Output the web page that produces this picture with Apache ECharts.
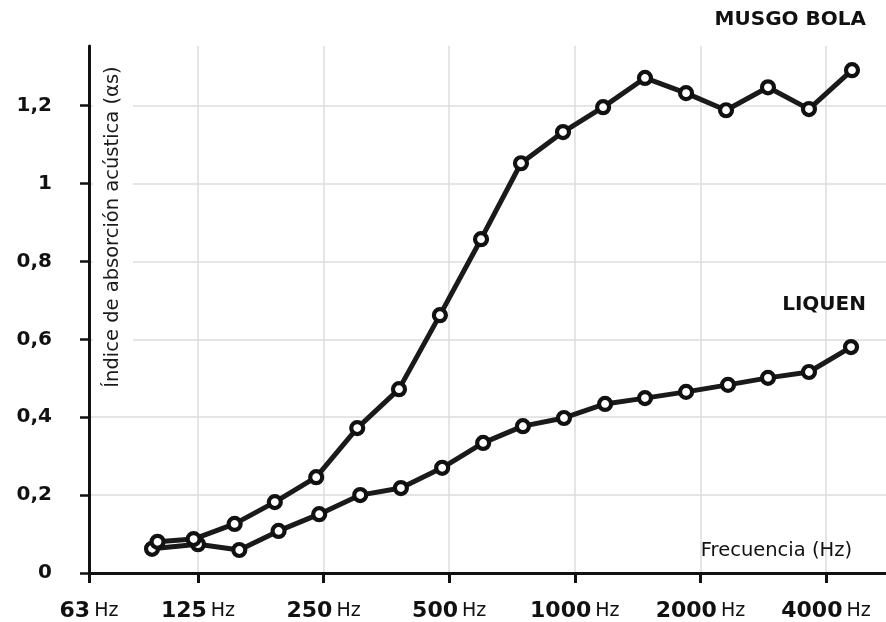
<!DOCTYPE html>
<html>
<head>
<meta charset="utf-8">
<script src="https://cdn.jsdelivr.net/npm/echarts@6/dist/echarts.min.js"></script>
<style>
  html, body { margin: 0; padding: 0; background: #fff; }
  #chart { width: 886px; height: 622px; }
</style>
</head>
<body>
<div id="chart"></div>
<script>
const musgoFreq  = [100, 122, 153, 191, 240, 301, 379, 475, 596, 743, 937, 1169, 1473, 1848, 2304, 2904, 3641, 4617];
const liquenFreq = [97, 125, 157, 195, 244, 306, 383, 481, 603, 751, 942, 1182, 1473, 1848, 2329, 2904, 3641, 4592];
// Absorption coefficient values
const musgoBola = [0.080, 0.087, 0.126, 0.182, 0.246, 0.372, 0.472, 0.662, 0.857, 1.052, 1.132, 1.196, 1.271, 1.232, 1.188, 1.247, 1.191, 1.291];
const liquen    = [0.062, 0.074, 0.059, 0.108, 0.151, 0.200, 0.218, 0.270, 0.334, 0.377, 0.398, 0.434, 0.449, 0.465, 0.483, 0.501, 0.516, 0.580];
// Axis ticks
const xTickFreqs  = [68.5, 125, 250, 500, 1000, 2000, 4000];
const xTickLabels = ['63', '125', '250', '500', '1000', '2000', '4000'];
const xMaxFreq = 5570;
const yTicks = [0, 0.2, 0.4, 0.6, 0.8, 1, 1.2];
const yMax = 1.353;

const FONT = 'DejaVu Sans';
const INK = '#111';

const log2 = Math.log2;
const xTickVals = xTickFreqs.map(log2);

function toPairs(freqs, vals) { return freqs.map((f, i) => [log2(f), vals[i]]); }

const chart = echarts.init(document.getElementById('chart'), null, { renderer: 'canvas' });

const seriesStyle = {
  type: 'line',
  symbol: 'circle',
  symbolSize: 12,
  showAllSymbol: true,
  lineStyle: { color: '#1a1a1a', width: 5 },
  itemStyle: { color: '#fff', borderColor: INK, borderWidth: 4.2 },
  emphasis: { disabled: true },
  animation: false
};

chart.setOption({
  animation: false,
  backgroundColor: '#fff',
  grid: { left: 89, right: 0, top: 46, bottom: 49, containLabel: false },
  xAxis: {
    type: 'value',
    min: log2(xTickFreqs[0]),
    max: log2(xMaxFreq),
    axisLine: { show: true, lineStyle: { color: INK, width: 3 } },
    axisTick: { show: true, customValues: xTickVals, length: 10, lineStyle: { color: INK, width: 3 } },
    splitLine: { show: true, lineStyle: { color: '#dcdcdc', width: 1.5 } },
    axisLabel: {
      customValues: xTickVals,
      margin: 27,
      formatter: function (v) {
        let best = 0;
        xTickVals.forEach((t, i) => { if (Math.abs(t - v) < Math.abs(xTickVals[best] - v)) best = i; });
        return '{n|' + xTickLabels[best] + '}{h|Hz}';
      },
      rich: {
        n: { fontFamily: FONT, fontWeight: 'bold', fontSize: 22, color: INK },
        h: { fontFamily: FONT, fontWeight: 'normal', fontSize: 19, color: INK, padding: [0, 0, 0, 4] }
      }
    }
  },
  yAxis: {
    type: 'value',
    min: 0,
    max: yMax,
    interval: 0.2,
    axisLine: { show: true, lineStyle: { color: INK, width: 3 } },
    axisTick: { show: true, customValues: yTicks, length: 9, lineStyle: { color: INK, width: 2.5 } },
    splitLine: { show: true, lineStyle: { color: '#dcdcdc', width: 1.5 } },
    axisLabel: {
      customValues: yTicks,
      margin: 37,
      fontFamily: FONT,
      fontWeight: 'bold',
      fontSize: 20,
      color: INK,
      padding: [0, 0, 8, 0],
      formatter: v => String(Math.round(v * 10) / 10).replace('.', ',')
    }
  },
  graphic: [
    {
      type: 'text', x: 113, y: 227, rotation: Math.PI / 2, z: 50,
      style: {
        text: 'Índice de absorción acústica (αs)',
        fontFamily: FONT, fontSize: 19.5, fill: '#1a1a1a',
        align: 'center', verticalAlign: 'middle',
        backgroundColor: '#fff', padding: [6, 4, 14, 4]
      }
    },
    {
      type: 'text', x: 866, y: 20, z: 50,
      style: { text: 'MUSGO BOLA', fontFamily: FONT, fontWeight: 'bold', fontSize: 20, fill: INK, align: 'right', verticalAlign: 'middle' }
    },
    {
      type: 'text', x: 866, y: 305, z: 50,
      style: { text: 'LIQUEN', fontFamily: FONT, fontWeight: 'bold', fontSize: 20, fill: INK, align: 'right', verticalAlign: 'middle' }
    },
    {
      type: 'text', x: 852, y: 551, z: 50,
      style: { text: 'Frecuencia (Hz)', fontFamily: FONT, fontSize: 19.5, fill: INK, align: 'right', verticalAlign: 'middle' }
    }
  ],
  series: [
    Object.assign({ name: 'LIQUEN', data: toPairs(liquenFreq, liquen), z: 3 }, seriesStyle),
    Object.assign({ name: 'MUSGO BOLA', data: toPairs(musgoFreq, musgoBola), z: 4 }, seriesStyle)
  ]
});
</script>
</body>
</html>
